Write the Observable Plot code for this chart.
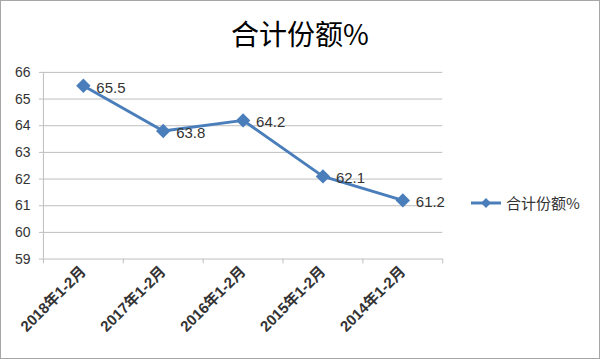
<!DOCTYPE html>
<html><head><meta charset="utf-8">
<script src="https://cdn.jsdelivr.net/npm/d3@7"></script>
<script src="https://cdn.jsdelivr.net/npm/@observablehq/plot@0.6"></script>
<style>
html,body{margin:0;padding:0;background:#fff;}
#wrap{position:relative;width:598px;height:357px;border:1px solid #a6a6a6;overflow:hidden;background:#fff;}
#title{position:absolute;left:0;width:598px;top:12px;text-align:center;font-family:"Noto Sans CJK SC",sans-serif;font-size:28px;color:#000;}
#legend{position:absolute;left:468px;top:191px;font-family:"Noto Sans CJK SC",sans-serif;font-size:15px;color:#333;display:flex;align-items:center;}
#chart{position:absolute;left:-1px;top:-1px;}
</style></head>
<body>
<div id="wrap">
<div id="chart"></div>
<div id="title">合计份额%</div>
<div id="legend"><svg width="34" height="14"><line x1="2" x2="32" y1="7" y2="7" stroke="#4a7ebb" stroke-width="3"/><path d="M17,2 L22,7 L17,12 L12,7 Z" fill="#4a7ebb"/></svg><span style="margin-left:3px">合计份额%</span></div>
</div>
<script>
const categories = ["2018年1-2月","2017年1-2月","2016年1-2月","2015年1-2月","2014年1-2月"];
const values = [65.5, 63.8, 64.2, 62.1, 61.2];
const yTicks = [59,60,61,62,63,64,65,66];
const seriesName = "合计份额%";

const data = categories.map((c,i)=>({cat:c, v:values[i]}));
const blue = "#4a7ebb";
const chart = Plot.plot({
  width: 600, height: 359,
  marginLeft: 43, marginRight: 157, marginTop: 72, marginBottom: 100,
  style: {fontFamily: "'Liberation Sans','Noto Sans CJK SC',sans-serif", fontSize: "14px", color: "#333", background: "transparent"},
  x: {type: "band", domain: categories, padding: 0, label: null},
  y: {domain: [59, 66], ticks: yTicks, label: null},
  marks: [
    Plot.ruleY(yTicks, {stroke: "#bfbfbf", strokeWidth: 1}),
    Plot.ruleX([categories[0]], {stroke: "#bfbfbf", dx: -40, y1: 59, y2: 66}),
    Plot.ruleX(categories, {stroke: "#bfbfbf", dx: -40, y1: 59, y2: 58.82}),
    Plot.ruleX([categories[categories.length-1]], {stroke: "#bfbfbf", dx: 40, y1: 59, y2: 58.82}),
    Plot.axisY({ticks: yTicks, tickSize: 4, tickPadding: 9, stroke: "#bfbfbf", fill: "#333", fontSize: 14, label: null, tickFormat: d=>d}),
    Plot.axisX({tickSize: 0, tickRotate: -45, tickPadding: 10, fill: "#333", fontSize: 15, fontWeight: "bold", label: null}),
    Plot.line(data, {x: "cat", y: "v", stroke: blue, strokeWidth: 3}),
    Plot.dot(data, {x: "cat", y: "v", symbol: "diamond2", fill: blue, r: 6.5}),
    Plot.text(data, {x: "cat", y: "v", text: d=>d.v.toFixed(1), dx: 13, dy: 2, textAnchor: "start", fill: "#333", fontSize: 15})
  ]
});
document.getElementById("chart").appendChild(chart);
</script>
</body></html>
